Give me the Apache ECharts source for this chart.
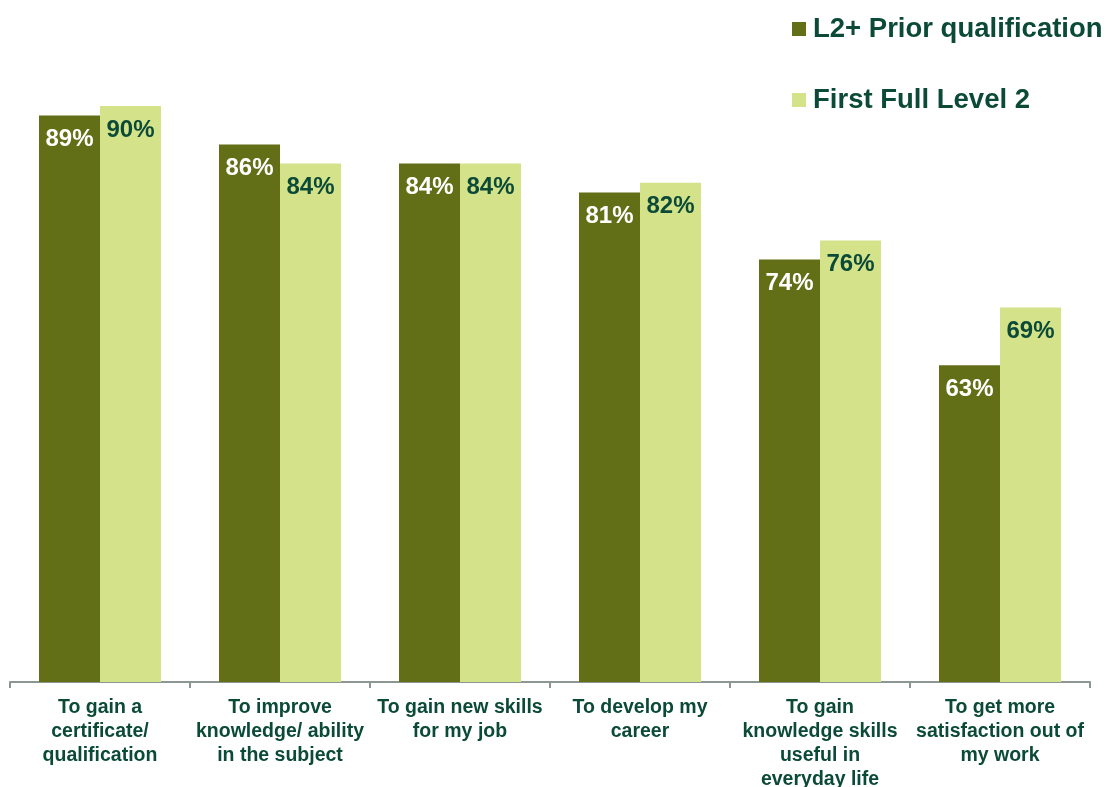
<!DOCTYPE html>
<html>
<head>
<meta charset="utf-8">
<title>Reasons for learning</title>
<script src="https://cdn.jsdelivr.net/npm/echarts@6/dist/echarts.min.js"></script>
<style>
  html, body { margin: 0; padding: 0; background: #ffffff; }
  #chart { width: 1108px; height: 787px; }
</style>
</head>
<body>
<div id="chart"></div>
<script>
// Reasons given for taking the course, by prior qualification group
const categories = [
  'To gain a\ncertificate/\nqualification',
  'To improve\nknowledge/ ability\nin the subject',
  'To gain new skills\nfor my job',
  'To develop my\ncareer',
  'To gain\nknowledge skills\nuseful in\neveryday life',
  'To get more\nsatisfaction out of\nmy work'
];
const priorQualification = [89, 86, 84, 81, 74, 63];
const firstFullLevel2 = [90, 84, 84, 82, 76, 69];
const seriesNames = ['L2+ Prior qualification', 'First Full Level 2'];

const DARK = '#636f17';
const LIGHT = '#d4e28a';
const TEXT = '#0c4a38';
const FONT = 'Liberation Sans, Arial, sans-serif';

const chart = echarts.init(document.getElementById('chart'), null, { renderer: 'canvas' });

chart.setOption({
  animation: false,
  backgroundColor: '#ffffff',
  grid: { left: 10, right: 18, top: 10, bottom: 105, containLabel: false, outerBoundsMode: 'none' },
  legend: {
    orient: 'vertical',
    left: 787,
    top: 10,
    itemGap: 43,
    itemWidth: 14,
    itemHeight: 14,
    icon: 'rect',
    textStyle: { fontFamily: FONT, fontSize: 27.5, fontWeight: 'bold', color: TEXT, padding: [0, 0, 0, 2] },
    data: seriesNames
  },
  xAxis: {
    type: 'category',
    data: categories,
    axisLine: { lineStyle: { color: '#8c9793', width: 2 } },
    axisTick: { show: true, alignWithLabel: false, length: 6, lineStyle: { color: '#8c9793', width: 2 } },
    axisLabel: {
      interval: 0,
      margin: 14,
      fontFamily: FONT,
      fontSize: 19.5,
      fontWeight: 'bold',
      lineHeight: 24,
      color: TEXT,
      align: 'center'
    }
  },
  yAxis: {
    type: 'value',
    min: 30,
    max: 100,
    show: false,
    splitLine: { show: false }
  },
  series: [
    {
      name: seriesNames[0],
      type: 'bar',
      data: priorQualification,
      barWidth: 61,
      barGap: '0%',
      itemStyle: { color: DARK },
      label: {
        show: true,
        position: 'insideTop',
        distance: 12,
        formatter: '{c}%',
        fontFamily: FONT,
        fontSize: 24,
        fontWeight: 'bold',
        color: '#ffffff'
      }
    },
    {
      name: seriesNames[1],
      type: 'bar',
      data: firstFullLevel2,
      barWidth: 61,
      barGap: '0%',
      itemStyle: { color: LIGHT },
      label: {
        show: true,
        position: 'insideTop',
        distance: 12,
        formatter: '{c}%',
        fontFamily: FONT,
        fontSize: 24,
        fontWeight: 'bold',
        color: TEXT
      }
    }
  ]
});
</script>
</body>
</html>
